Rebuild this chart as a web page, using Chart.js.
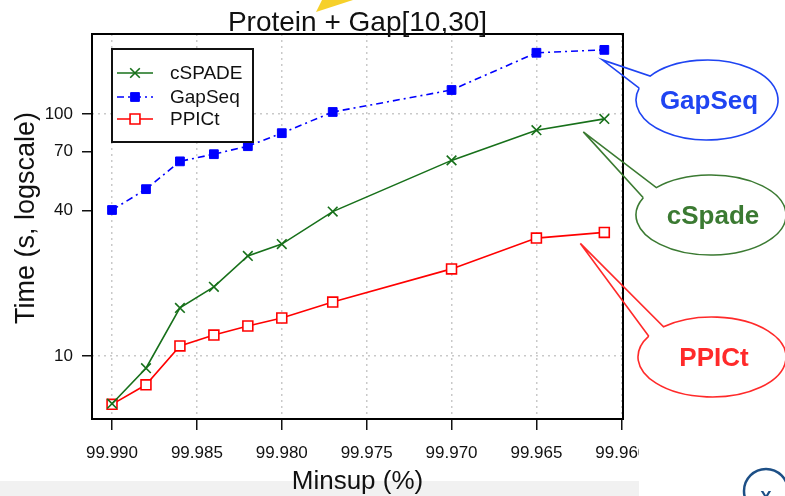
<!DOCTYPE html>
<html><head><meta charset="utf-8">
<script src="https://cdn.jsdelivr.net/npm/chart.js@4.4.1/dist/chart.umd.min.js"></script>
<style>html,body{margin:0;padding:0;background:#fff;overflow:hidden;}#wrap{width:785px;height:496px;position:relative;}</style>
</head><body><div id="wrap"><canvas id="c" width="785" height="496"></canvas></div>
<script>
// ---- data ----
const minsup = [99.990, 99.988, 99.986, 99.984, 99.982, 99.980, 99.977, 99.970, 99.965, 99.961];
const cspade = [6.35, 8.9, 15.8, 19.3, 25.9, 29.0, 39.5, 64.3, 85.7, 95.4];
const gapseq = [40.1, 48.9, 63.7, 68.2, 73.6, 83.3, 101.9, 125.6, 179, 184];
const ppict  = [6.31, 7.6, 11.0, 12.2, 13.3, 14.35, 16.7, 22.9, 30.7, 32.4];
const seriesNames = ['cSPADE', 'GapSeq', 'PPICt'];
const xTicks = [99.990, 99.985, 99.980, 99.975, 99.970, 99.965, 99.960];
const xTickLabels = ['99.990', '99.985', '99.980', '99.975', '99.970', '99.965', '99.960'];
const yTicks = [10, 40, 70, 100];
const yTickLabels = ['10', '40', '70', '100'];
const yGridValues = [10, 100];
const chartTitle = 'Protein + Gap[10,30]';
const xTitle = 'Minsup (%)';
const yTitle = 'Time (s, logscale)';
const calloutLabels = ['cSpade', 'GapSeq', 'PPICt'];

const FONT = "'Liberation Sans', Arial, Helvetica, sans-serif";
const pts = arr => minsup.map((x, i) => ({x: x, y: arr[i]}));

function drawMarker(ctx, style, x, y, r, stroke, fill, lw) {
  ctx.save();
  ctx.setLineDash([]);
  ctx.lineWidth = lw; ctx.strokeStyle = stroke; ctx.fillStyle = fill;
  if (style === 'crossRot') {
    const d = r * Math.SQRT1_2;
    ctx.beginPath();
    ctx.moveTo(x - d, y - d); ctx.lineTo(x + d, y + d);
    ctx.moveTo(x - d, y + d); ctx.lineTo(x + d, y - d);
    ctx.stroke();
  } else {
    const s = r * Math.SQRT1_2;
    ctx.beginPath(); ctx.rect(x - s, y - s, 2 * s, 2 * s);
    ctx.fill(); ctx.stroke();
  }
  ctx.restore();
}

const decor = {
  id: 'decor',
  beforeDraw(chart) {
    const ctx = chart.ctx;
    ctx.save();
    ctx.fillStyle = '#ffffff'; ctx.fillRect(0, 0, 785, 496);
    // light band at the bottom of the slide picture
    ctx.fillStyle = '#f1f1f1'; ctx.fillRect(0, 481, 639, 15);
    // yellow shape peeking at the top
    ctx.fillStyle = '#f6d02a';
    ctx.beginPath(); ctx.moveTo(316, 12); ctx.lineTo(322, 0); ctx.lineTo(353, 0); ctx.closePath(); ctx.fill();
    ctx.restore();
  },
  afterDraw(chart) {
    const ctx = chart.ctx, a = chart.chartArea;
    ctx.save();
    // frame
    ctx.strokeStyle = '#000'; ctx.lineWidth = 2; ctx.setLineDash([]);
    ctx.strokeRect(a.left, a.top, a.right - a.left, a.bottom - a.top);
    // cut-off of the last tick label (picture edge)
    ctx.fillStyle = '#fff'; ctx.fillRect(639, 436, 30, 34);
    // titles
    ctx.fillStyle = '#111';
    ctx.textAlign = 'center'; ctx.textBaseline = 'alphabetic';
    ctx.font = '28px ' + FONT;
    ctx.fillText(chartTitle, (a.left + a.right) / 2, 31);
    ctx.font = '26px ' + FONT;
    ctx.fillText(xTitle, (a.left + a.right) / 2, 489);
    ctx.save();
    ctx.translate(34, 218); ctx.rotate(-Math.PI / 2);
    ctx.font = '27px ' + FONT;
    ctx.fillText(yTitle, 0, 0);
    ctx.restore();
    // legend
    const lx = a.left + 20, ly = a.top + 15, lw = 141, lh = 93;
    ctx.fillStyle = '#fff'; ctx.fillRect(lx, ly, lw, lh);
    ctx.strokeStyle = '#111'; ctx.lineWidth = 2; ctx.strokeRect(lx, ly, lw, lh);
    const rows = [73, 97, 119];
    chart.data.datasets.forEach((ds, i) => {
      const y = rows[i];
      ctx.save();
      ctx.strokeStyle = ds.borderColor; ctx.lineWidth = ds.borderWidth;
      ctx.setLineDash(ds.borderDash || []);
      ctx.beginPath(); ctx.moveTo(lx + 5, y); ctx.lineTo(lx + 41, y); ctx.stroke();
      ctx.restore();
      drawMarker(ctx, ds.pointStyle, lx + 23, y, ds.pointRadius, ds.pointBorderColor, ds.pointBackgroundColor, ds.pointBorderWidth);
      ctx.fillStyle = '#111'; ctx.font = '19px ' + FONT;
      ctx.textAlign = 'left'; ctx.textBaseline = 'middle';
      ctx.fillText(ds.label, lx + 58, y + 1);
    });
    // callouts pointing at the last point of each series
    const xs = chart.scales.x, ys = chart.scales.y;
    const callouts = [
      {ds: 0, dx: -21, dy: 13, cx: 711, cy: 215, rx: 75, ry: 40, t1: -136.8, t2: -154.5, color: '#3b7a32'},
      {ds: 1, dx: -2, dy: 10, cx: 707, cy: 100, rx: 71, ry: 40, t1: -143.2, t2: -162.8, color: '#1f44f2'},
      {ds: 2, dx: -24, dy: 11, cx: 712, cy: 357, rx: 74, ry: 40, t1: -130.9, t2: -148.7, color: '#ff2a2a'}
    ];
    const series = [cspade, gapseq, ppict];
    callouts.forEach((c, i) => {
      const n = minsup.length - 1;
      const px = xs.getPixelForValue(minsup[n]) + c.dx;
      const py = ys.getPixelForValue(series[c.ds][n]) + c.dy;
      const r1 = c.t1 * Math.PI / 180, r2 = c.t2 * Math.PI / 180;
      const b1 = [c.cx + c.rx * Math.cos(r1), c.cy + c.ry * Math.sin(r1)];
      const b2 = [c.cx + c.rx * Math.cos(r2), c.cy + c.ry * Math.sin(r2)];
      ctx.save();
      ctx.strokeStyle = c.color; ctx.lineWidth = 1.6; ctx.lineJoin = 'miter';
      ctx.beginPath();
      ctx.moveTo(b2[0], b2[1]);
      ctx.lineTo(px, py);
      ctx.lineTo(b1[0], b1[1]);
      ctx.ellipse(c.cx, c.cy, c.rx, c.ry, 0, r1, r2 + 2 * Math.PI, false);
      ctx.stroke();
      ctx.fillStyle = c.color;
      ctx.font = 'bold 26px ' + FONT;
      ctx.textAlign = 'center'; ctx.textBaseline = 'middle';
      ctx.fillText(calloutLabels[i], c.cx + 2, c.cy + 2);
      ctx.restore();
    });
    // round button at the bottom-right corner
    ctx.strokeStyle = '#1d4f86'; ctx.lineWidth = 2.5;
    ctx.beginPath(); ctx.arc(766, 491, 22, 0, Math.PI * 2); ctx.stroke();
    ctx.fillStyle = '#1d4f86'; ctx.font = 'bold 17px ' + FONT;
    ctx.textAlign = 'center'; ctx.textBaseline = 'alphabetic';
    ctx.fillText('X', 766, 503);
    ctx.restore();
  }
};

new Chart(document.getElementById('c'), {
  type: 'line',
  data: {
    datasets: [
      {label: seriesNames[0], data: pts(cspade), borderColor: '#17701a', borderWidth: 1.6,
       pointStyle: 'crossRot', pointRadius: 6.8, pointBorderColor: '#17701a', pointBackgroundColor: '#17701a', pointBorderWidth: 1.6,
       tension: 0, fill: false},
      {label: seriesNames[1], data: pts(gapseq), borderColor: '#0000ff', borderWidth: 1.6, borderDash: [7, 4, 2, 4],
       pointStyle: 'rect', pointRadius: 6.2, pointBorderColor: '#0000ff', pointBackgroundColor: '#0000ff', pointBorderWidth: 1,
       tension: 0, fill: false},
      {label: seriesNames[2], data: pts(ppict), borderColor: '#ff0000', borderWidth: 1.6,
       pointStyle: 'rect', pointRadius: 7, pointBorderColor: '#ff0000', pointBackgroundColor: '#ffffff', pointBorderWidth: 1.6,
       tension: 0, fill: false}
    ]
  },
  options: {
    responsive: false, animation: false, devicePixelRatio: 1,
    layout: {padding: {left: 0, right: 162, top: 34, bottom: 0}},
    plugins: {legend: {display: false}, title: {display: false}, tooltip: {enabled: false}},
    scales: {
      x: {
        type: 'linear', reverse: true, min: 99.9599, max: 99.99118,
        afterFit: s => { s.height = 77; },
        afterBuildTicks: s => { s.ticks = xTicks.map(v => ({value: v})); },
        ticks: {autoSkip: false, maxRotation: 0, padding: 13, color: '#111',
                font: {family: FONT, size: 17}, callback: (v, i) => xTickLabels[i]},
        grid: {color: '#c9c9c9', lineWidth: 1.5, tickColor: '#111', tickWidth: 1.5, tickLength: 11, drawOnChartArea: true},
        border: {display: false, dash: [2, 4]}
      },
      y: {
        type: 'logarithmic', min: 5.49, max: 214,
        afterFit: s => { s.width = 92; },
        afterBuildTicks: s => { s.ticks = yTicks.map(v => ({value: v})); },
        ticks: {autoSkip: false, padding: 9, color: '#111',
                font: {family: FONT, size: 17}, callback: (v, i) => yTickLabels[i]},
        grid: {color: c => (c.tick && yGridValues.includes(c.tick.value)) ? '#c9c9c9' : 'rgba(0,0,0,0)',
               lineWidth: 1.5, tickColor: '#111', tickWidth: 1.5, tickLength: 10, drawOnChartArea: true},
        border: {display: false, dash: [2, 4]}
      }
    }
  },
  plugins: [decor]
});
</script></body></html>
